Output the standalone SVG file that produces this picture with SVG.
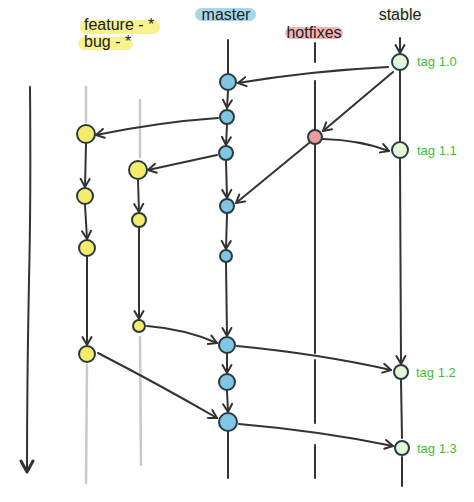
<svg xmlns="http://www.w3.org/2000/svg" width="474" height="502" viewBox="0 0 474 502">
<style>
.ln{fill:none;stroke:#333;stroke-width:2;stroke-linecap:round}
.gray{fill:none;stroke:#c9c9c9;stroke-width:2.5;stroke-linecap:round}
.node{stroke:#2b3a40;stroke-width:2}
.blue{fill:#7fc7e2}
.yellow{fill:#f4ec6a}
.red{fill:#f09b9b}
.green{fill:#e2f6d8}
.lbl{font-family:"Liberation Sans",Arial,sans-serif;font-size:16px;fill:#222}
.tag{font-family:"Liberation Sans",Arial,sans-serif;font-size:13px;fill:#3fbf34}
</style>
<defs>
<marker id="ah" markerUnits="userSpaceOnUse" markerWidth="12" markerHeight="12" refX="10" refY="6" orient="auto">
<path d="M2,1.5 L10,6 L2,10.5" fill="none" stroke="#333" stroke-width="2" stroke-linecap="round" stroke-linejoin="round"/>
</marker>
<marker id="ahb" markerUnits="userSpaceOnUse" markerWidth="16" markerHeight="16" refX="13" refY="8" orient="auto">
<path d="M2,2 L13,8 L2,14" fill="none" stroke="#333" stroke-width="3" stroke-linecap="round" stroke-linejoin="round"/>
</marker>
</defs>
<rect width="474" height="502" fill="#fff"/>

<g id="labels">
<rect x="80" y="20" width="80" height="14" rx="7" fill="#f6ef7a" opacity="0.85"/>
<rect x="78" y="37" width="55" height="13" rx="6.5" fill="#f6ef7a" opacity="0.85"/>
<text class="lbl" x="84" y="30" font-size="14">feature - *</text>
<text class="lbl" x="84" y="47" font-size="14">bug - *</text>
<rect x="195" y="8" width="61" height="13" rx="6.5" fill="#a6d8ec"/>
<text class="lbl" x="226" y="20" text-anchor="middle" font-size="17">master</text>
<rect x="285" y="27" width="58" height="12" rx="6" fill="#f3b3b3"/>
<text class="lbl" x="314" y="38" text-anchor="middle" font-size="14" fill="#5a1a1a">hotfixes</text>
<rect x="378" y="9" width="44" height="13" rx="6.5" fill="#eaf7e3"/>
<text class="lbl" x="400" y="20" text-anchor="middle" font-size="15">stable</text>
<text class="tag" x="417" y="66">tag 1.0</text>
<text class="tag" x="417" y="155">tag 1.1</text>
<text class="tag" x="416" y="377">tag 1.2</text>
<text class="tag" x="417" y="453">tag 1.3</text>
</g>

<g id="connectors">
<path class="ln" d="M30,87 Q31,200 29,280 Q27,380 27,472" stroke-width="4" marker-end="url(#ahb)"/>
<path class="gray" d="M86,87 L86,122"/>
<path class="gray" d="M87,365 L86,483"/>
<path class="gray" d="M140,100 L140,157"/>
<path class="gray" d="M140,337 L141,465"/>
<path class="ln" d="M315,43 L315,62"/>
<path class="ln" d="M315,81 L315,129"/>
<path class="ln" d="M315,145 L315,353"/>
<path class="ln" d="M315,360 L315,423"/>
<path class="ln" d="M315,445 L315,478"/>
<path class="ln" d="M228,40 L228,73"/>
<path class="ln" d="M228,91 L227,108" marker-end="url(#ah)"/>
<path class="ln" d="M227,125 L226,145" marker-end="url(#ah)"/>
<path class="ln" d="M226,161 L227,198" marker-end="url(#ah)"/>
<path class="ln" d="M227,214 L226,249" marker-end="url(#ah)"/>
<path class="ln" d="M226,263 L227,336" marker-end="url(#ah)"/>
<path class="ln" d="M227,354 L227,373" marker-end="url(#ah)"/>
<path class="ln" d="M227,391 L228,412" marker-end="url(#ah)"/>
<path class="ln" d="M228,432 L228,478"/>
<path class="ln" d="M86,144 L85,187" marker-end="url(#ah)"/>
<path class="ln" d="M85,205 L87,239" marker-end="url(#ah)"/>
<path class="ln" d="M87,257 L87,345" marker-end="url(#ah)"/>
<path class="ln" d="M138,180 L139,212" marker-end="url(#ah)"/>
<path class="ln" d="M139,228 L139,319" marker-end="url(#ah)"/>
<path class="ln" d="M400,38 L400,53" marker-end="url(#ah)"/>
<path class="ln" d="M400,71 L400,141"/>
<path class="ln" d="M400,159 L401,364" marker-end="url(#ah)"/>
<path class="ln" d="M401,380 L402,438"/>
<path class="ln" d="M402,457 L402,486"/>
<path class="ln" d="M388,67 Q310,71 238,83" marker-end="url(#ah)"/>
<path class="ln" d="M393,72 L323,131" marker-end="url(#ah)"/>
<path class="ln" d="M323,139 Q360,140 389,151" marker-end="url(#ah)"/>
<path class="ln" d="M309,143 L236,203" marker-end="url(#ah)"/>
<path class="ln" d="M218,118 Q160,122 96,135" marker-end="url(#ah)"/>
<path class="ln" d="M217,155 L148,170" marker-end="url(#ah)"/>
<path class="ln" d="M147,326 Q185,329 217,343" marker-end="url(#ah)"/>
<path class="ln" d="M98,353 Q160,385 217,418" marker-end="url(#ah)"/>
<path class="ln" d="M237,346 Q320,354 391,370" marker-end="url(#ah)"/>
<path class="ln" d="M239,424 Q320,431 393,446" marker-end="url(#ah)"/>
</g>

<g id="master-nodes">
<g id="m1"><circle class="node blue" cx="228" cy="82" r="8"/></g>
<g id="m2"><circle class="node blue" cx="227" cy="117" r="7"/></g>
<g id="m3"><circle class="node blue" cx="226" cy="153" r="7"/></g>
<g id="m4"><circle class="node blue" cx="227" cy="206" r="7"/></g>
<g id="m5"><circle class="node blue" cx="226" cy="256" r="6"/></g>
<g id="m6"><circle class="node blue" cx="227" cy="345" r="8"/></g>
<g id="m7"><circle class="node blue" cx="227" cy="382" r="8"/></g>
<g id="m8"><circle class="node blue" cx="228" cy="422" r="9"/></g>
</g>
<g id="feature-nodes">
<g id="f1"><circle class="node yellow" cx="86" cy="134" r="9"/></g>
<g id="f2"><circle class="node yellow" cx="85" cy="196" r="8"/></g>
<g id="f3"><circle class="node yellow" cx="87" cy="248" r="8"/></g>
<g id="f4"><circle class="node yellow" cx="87" cy="354" r="8"/></g>
</g>
<g id="bug-nodes">
<g id="b1"><circle class="node yellow" cx="138" cy="170" r="9"/></g>
<g id="b2"><circle class="node yellow" cx="139" cy="220" r="7"/></g>
<g id="b3"><circle class="node yellow" cx="139" cy="326" r="6"/></g>
</g>
<g id="hotfix-node">
<g id="h1"><circle class="node red" cx="315" cy="137" r="7"/></g>
</g>
<g id="stable-nodes">
<g id="s1"><circle class="node green" cx="400" cy="62" r="8"/></g>
<g id="s2"><circle class="node green" cx="400" cy="150" r="8"/></g>
<g id="s3"><circle class="node green" cx="401" cy="372" r="7"/></g>
<g id="s4"><circle class="node green" cx="402" cy="448" r="7"/></g>
</g>
</svg>
